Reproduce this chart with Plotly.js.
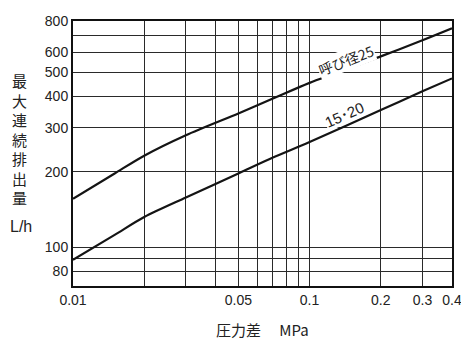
<!DOCTYPE html>
<html>
<head>
<meta charset="utf-8">
<script src="https://cdn.plot.ly/plotly-3.0.1.min.js"></script>
<style>html,body{margin:0;padding:0;background:#fff;}#chart{width:461px;height:341px;}</style>
</head>
<body>
<div id="chart"></div>
<script>
// Data
const pressure = [0.01, 0.015, 0.02, 0.03, 0.05, 0.07, 0.1, 0.2, 0.3, 0.4];
const flow25   = [156, 197, 232, 280, 342, 392, 453, 578, 670, 748];
const flow1520 = [89, 112, 132, 158, 197, 228, 263, 353, 419, 472];

const xTickVals = [0.01, 0.02, 0.03, 0.04, 0.05, 0.06, 0.07, 0.08, 0.09, 0.1, 0.2, 0.3, 0.4];
const xTickText = ['0.01', '', '', '', '0.05', '', '', '', '', '0.1', '0.2', '0.3', '0.4'];
const yTickVals = [80, 90, 100, 200, 300, 400, 500, 600, 700, 800];
const yTickText = ['80', '', '100', '200', '300', '400', '500', '600', '', '800'];

const seriesLabels = ['呼び径25', '15･20'];
const labelPos = [[0.143, 560], [0.141, 338]];
const yTitleChars = ['最', '大', '連', '続', '排', '出', '量'];
const yUnit = 'L/h';
const xTitle = '圧力差　 MPa';

const FONT = 'Liberation Sans, Arial, Noto Sans CJK JP, sans-serif';
const CJK = 'Noto Sans CJK JP, Liberation Sans, sans-serif';

const lineStyle = {color: '#141414', width: 2.2, shape: 'spline', smoothing: 0.8};
const traces = [
  {x: pressure, y: flow25, mode: 'lines', line: lineStyle, hoverinfo: 'skip'},
  {x: pressure, y: flow1520, mode: 'lines', line: lineStyle, hoverinfo: 'skip'}
];

const layout = {
  width: 461, height: 341,
  margin: {l: 73, r: 9, t: 21, b: 55},
  paper_bgcolor: '#fff', plot_bgcolor: '#fff',
  showlegend: false,
  font: {family: FONT, size: 14, color: '#222'},
  xaxis: {
    type: 'log', range: [Math.log10(0.01) - 1e-6, Math.log10(0.4) + 1e-6],
    tickmode: 'array', tickvals: xTickVals, ticktext: xTickText,
    showgrid: true, gridcolor: '#2a2a2a', gridwidth: 1,
    showline: true, linecolor: '#111', linewidth: 2, mirror: true,
    ticks: '', zeroline: false, automargin: false,
    ticklabeloverflow: 'allow',
    tickfont: {family: FONT, size: 14, color: '#222'}
  },
  yaxis: {
    type: 'log', range: [Math.log10(70), Math.log10(800) + 1e-6],
    tickmode: 'array', tickvals: yTickVals, ticktext: yTickText,
    showgrid: true, gridcolor: '#2a2a2a', gridwidth: 1,
    showline: true, linecolor: '#111', linewidth: 2, mirror: true,
    ticks: '', zeroline: false, automargin: false,
    tickfont: {family: FONT, size: 14, color: '#222'}
  },
  annotations: [
    {xref: 'x', yref: 'y', x: Math.log10(labelPos[0][0]), y: Math.log10(labelPos[0][1]),
     text: seriesLabels[0], showarrow: false, textangle: -21,
     bgcolor: '#fff', borderpad: 0,
     font: {family: CJK, size: 14, color: '#222'}},
    {xref: 'x', yref: 'y', x: Math.log10(labelPos[1][0]), y: Math.log10(labelPos[1][1]),
     text: seriesLabels[1], showarrow: false, textangle: -24,
     bgcolor: '#fff', borderpad: 0,
     font: {family: FONT, size: 15, color: '#222'}},
    {xref: 'paper', yref: 'paper', x: -0.14, y: 0.555, xanchor: 'center', yanchor: 'middle',
     text: yTitleChars.join('<br>'), showarrow: false,
     font: {family: CJK, size: 15, color: '#222'}},
    {xref: 'paper', yref: 'paper', x: -0.138, y: 0.226, xanchor: 'center', yanchor: 'middle',
     text: yUnit, showarrow: false,
     font: {family: FONT, size: 16, color: '#222'}},
    {xref: 'paper', yref: 'paper', x: 0.5, y: -0.163, xanchor: 'center', yanchor: 'middle',
     text: xTitle, showarrow: false, borderpad: 0,
     font: {family: CJK, size: 15, color: '#222'}}
  ]
};

Plotly.newPlot('chart', traces, layout, {staticPlot: true, displayModeBar: false});
</script>
</body>
</html>
